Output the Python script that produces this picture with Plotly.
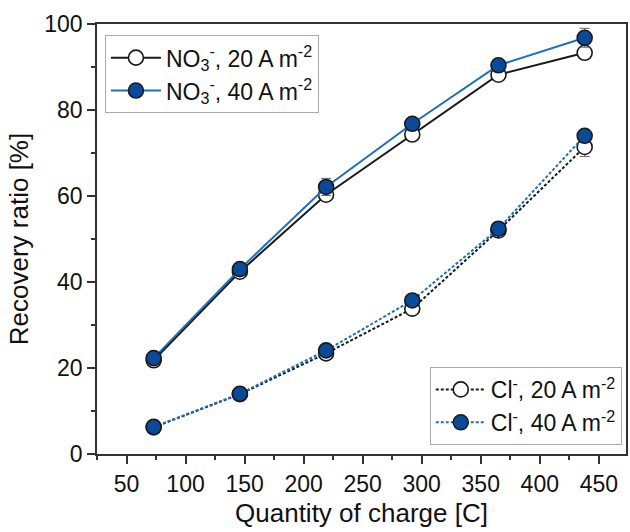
import plotly.graph_objects as go

charge = [73, 146, 219, 292, 365, 438]
no3_20 = [21.8, 42.4, 60.3, 74.3, 88.2, 93.3]
no3_40 = [22.3, 43.0, 62.1, 76.8, 90.4, 96.8]
cl_20 = [6.2, 13.9, 23.4, 33.8, 52.0, 71.4]
cl_40 = [6.3, 14.0, 24.1, 35.7, 52.4, 74.0]
no3_20_err = [0.5, 0.6, 0.8, 0.8, 0.7, 0.8]
no3_40_err = [0.5, 0.6, 2.0, 0.9, 0.8, 2.2]
cl_20_err = [0.3, 0.4, 0.6, 0.6, 1.5, 2.2]
cl_40_err = [0.3, 0.4, 0.6, 0.8, 1.0, 0.8]

names = ["NO<sub>3</sub><sup>-</sup>, 20 A m<sup>-2</sup>",
         "NO<sub>3</sub><sup>-</sup>, 40 A m<sup>-2</sup>",
         "Cl<sup>-</sup>, 20 A m<sup>-2</sup>",
         "Cl<sup>-</sup>, 40 A m<sup>-2</sup>"]

FONT = "Liberation Sans, Arial, sans-serif"
BLACK = "#1a1a1a"
BLUE_LINE = "#1c6fb8"
BLUE_FILL = "#0a4a9a"

fig = go.Figure()

def add(y, err, name, line_color, fill, dash, legend):
    fig.add_trace(go.Scatter(
        x=charge, y=y, name=name, mode="lines+markers",
        line=dict(color=line_color, width=2, dash=dash),
        marker=dict(symbol="circle", size=15, color=fill,
                    line=dict(color=BLACK, width=1.6)),
        error_y=dict(type="data", array=err, visible=True,
                     color="#666666", thickness=1, width=5),
        legend=legend,
    ))

add(no3_20, no3_20_err, names[0], BLACK, "white", "solid", "legend")
add(no3_40, no3_40_err, names[1], BLUE_LINE, BLUE_FILL, "solid", "legend")
add(cl_20, cl_20_err, names[2], BLACK, "white", "3px,2px", "legend2")
add(cl_40, cl_40_err, names[3], BLUE_LINE, BLUE_FILL, "3px,2px", "legend2")

axis_common = dict(
    showline=True, linecolor="#333333", linewidth=1.8, mirror=True,
    ticks="outside", ticklen=8, tickwidth=1.5, tickcolor="#333333",
    showgrid=False, zeroline=False,
    tickfont=dict(family=FONT, size=23, color="#111111"),
    title_font=dict(family=FONT, size=26, color="#111111"),
)

fig.update_xaxes(
    range=[25, 473], tickmode="array",
    tickvals=[50, 100, 150, 200, 250, 300, 350, 400, 450],
    minor=dict(ticks="outside", ticklen=4, tickwidth=1.5, tickcolor="#333333",
               dtick=25, tick0=25),
    title_text="Quantity of charge [C]", title_standoff=8,
    **axis_common,
)
fig.update_yaxes(
    range=[0, 100], tickmode="array", tickvals=[0, 20, 40, 60, 80, 100],
    minor=dict(ticks="outside", ticklen=4, tickwidth=1.5, tickcolor="#333333",
               dtick=10, tick0=0),
    title_text="Recovery ratio [%]", title_standoff=8,
    **axis_common,
)

legend_common = dict(
    bgcolor="white", bordercolor="#aaaaaa", borderwidth=1,
    font=dict(family=FONT, size=23, color="#111111"),
    itemwidth=50, tracegroupgap=0,
)

fig.update_layout(
    width=630, height=532,
    margin=dict(l=97, r=2, t=24, b=78),
    paper_bgcolor="white", plot_bgcolor="white",
    showlegend=True,
    legend=dict(x=0.015, y=0.974, xanchor="left", yanchor="top", **legend_common),
    legend2=dict(x=0.992, y=0.021, xanchor="right", yanchor="bottom", **legend_common),
)

fig.write_html("out.html")
